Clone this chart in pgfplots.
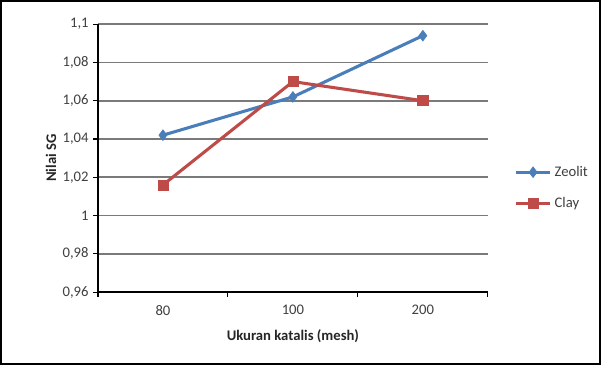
\documentclass[border=0pt]{standalone}
\usepackage{pgfplots}
\pgfplotsset{compat=1.18}
\usepackage{fontspec}
\setmainfont{Carlito}
\usetikzlibrary{plotmarks}
\definecolor{zeolit}{HTML}{4A7EBB}
\definecolor{clay}{HTML}{BE4B48}
\definecolor{gridc}{HTML}{7A7A7A}
\begin{document}
\begin{tikzpicture}
  % outer frame of the chart
  \draw[line width=1.8pt, black, fill=white] (0.9pt,0.9pt) rectangle (450pt,273pt);
  \begin{axis}[
    at={(73.5pt,54.75pt)}, anchor=south west,
    scale only axis, width=292.5pt, height=201pt,
    xmin=-0.5, xmax=2.5, ymin=0.96, ymax=1.1,
    xtick={0,1,2}, xticklabels={80,100,200},
    minor xtick={-0.5,0.5,1.5,2.5},
    major x tick style={draw=none},
    minor tick length=3.5pt,
    major tick length=3.5pt,
    ytick={0.96,0.98,1,1.02,1.04,1.06,1.08,1.1},
    tick align=outside,
    axis lines*=left,
    axis line style={-, line width=1pt, black},
    every tick/.style={black, line width=0.8pt},
    ymajorgrids,
    major grid style={gridc, line width=1.2pt},
    yticklabel style={/pgf/number format/.cd, use comma, fixed, precision=2, assume math mode=true},
    ticklabel style={font=\fontsize{11}{13}\selectfont, text=black!75},
    xticklabel style={yshift=-3pt},
    xlabel={\textbf{Ukuran katalis (mesh)}},
    ylabel={\textbf{Nilai SG}},
    label style={font=\fontsize{11}{13}\selectfont, text=black!85},
    xlabel style={yshift=-4pt},
    ylabel style={yshift=-2pt},
    legend style={at={(rel axis cs:1.067,0.39)}, anchor=west, draw=none, fill=none,
      font=\fontsize{11}{13}\selectfont, text=black!75, row sep=10pt, inner sep=0pt},
    legend cell align=left,
    legend image code/.code={%
      \draw[mark repeat=2,mark phase=2] plot coordinates {(0pt,0pt)(13pt,0pt)(26pt,0pt)};},
    clip=false,
  ]
    \addplot[zeolit, line width=2.3pt, mark=diamond*, mark size=4pt,
      mark options={solid, line width=0.5pt, fill=zeolit}]
      coordinates {(0,1.042) (1,1.062) (2,1.094)};
    \addlegendentry{Zeolit}
    \addplot[clay, line width=2.3pt, mark=square*, mark size=3.8pt,
      mark options={solid, line width=0.5pt, fill=clay}]
      coordinates {(0,1.016) (1,1.07) (2,1.06)};
    \addlegendentry{Clay}
  \end{axis}
\end{tikzpicture}
\end{document}
